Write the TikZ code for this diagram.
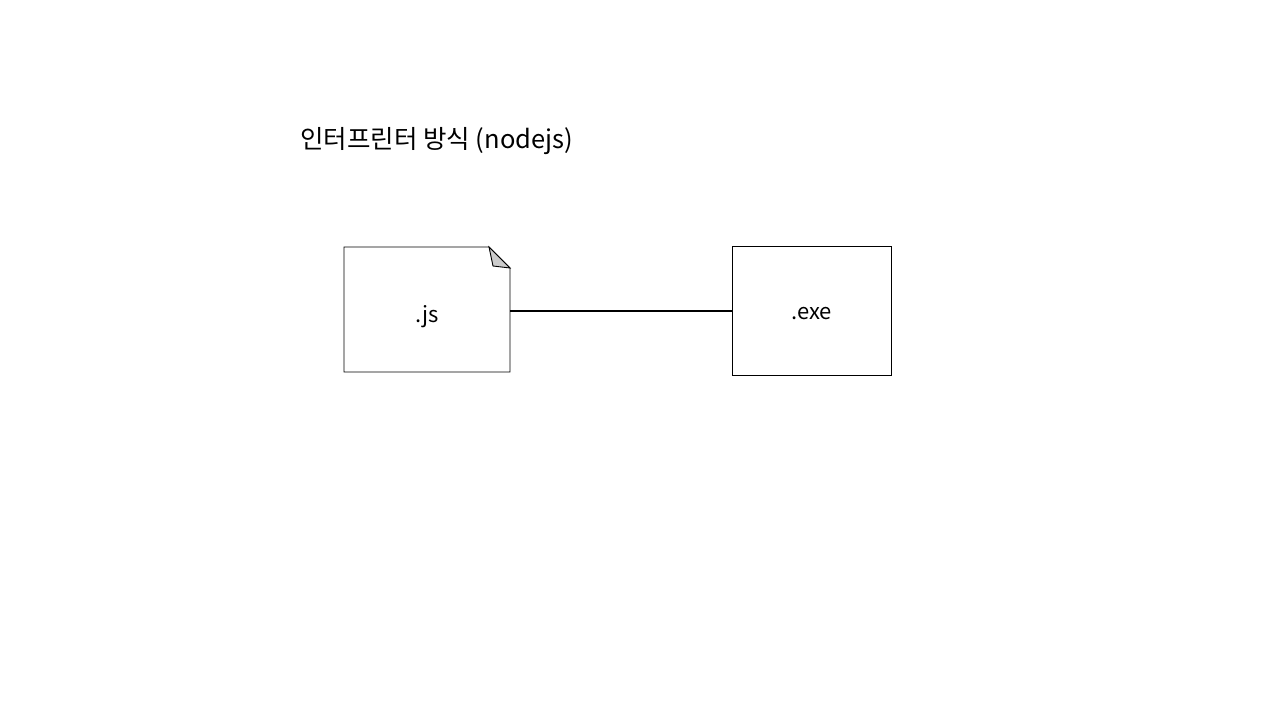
\documentclass[tikz,border=0pt]{standalone}
\usepackage{fontspec}
\setmainfont{Noto Sans CJK KR}
\begin{document}
\begin{tikzpicture}[x=1pt,y=-1pt,
  boxline/.style={draw=black,line width=0.9pt,fill=white},
  lbl/.style={font=\fontsize{22}{26}\selectfont,inner sep=0pt}]
\useasboundingbox (0,0) rectangle (1280,720);
\fill[white] (0,0) rectangle (1280,720);
% title
\node[lbl,anchor=base west,font=\fontsize{25.5}{30}\selectfont] (title) at (300,148) {인터프린터 방식 (nodejs)};
% note shape
\draw[boxline] (344,247) -- (489,247) -- (510,268) -- (510,372) -- (344,372) -- cycle;
\draw[line width=0.9pt,fill=black!20] (489,247) -- (493,266) -- (510,268) -- cycle;
\coordinate (jsE) at (510,311);
\node[lbl] (js) at (427,317) {.js};
% exe box
\node[boxline,minimum width=159pt,minimum height=129pt,inner sep=0pt,anchor=north west] (exe) at (732,246) {};
\node[lbl] (exel) at (811.5,314) {.exe};
\draw[line width=1.6pt] (jsE) -- (exe.west);
\end{tikzpicture}
\end{document}
